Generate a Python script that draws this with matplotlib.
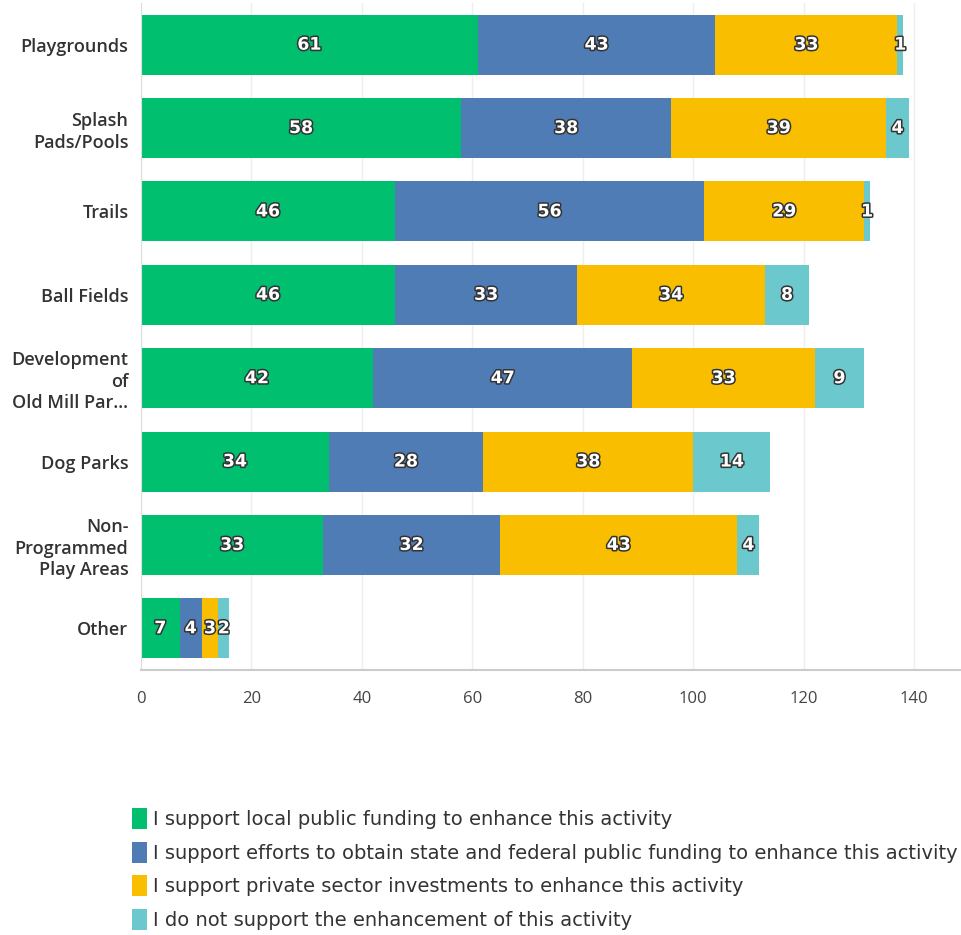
import matplotlib
matplotlib.use("Agg")
import numpy as np
import matplotlib.pyplot as plt
import matplotlib.patheffects as pe
from matplotlib.patches import Patch

# data, top to bottom as in the chart
categories = ["Playgrounds", "Splash\nPads/Pools", "Trails", "Ball Fields",
              "Development\nof\nOld Mill Par...", "Dog Parks",
              "Non-\nProgrammed\nPlay Areas", "Other"]
local_public = [61, 58, 46, 46, 42, 34, 33, 7]
state_federal = [43, 38, 56, 33, 47, 28, 32, 4]
private_sector = [33, 39, 29, 34, 33, 38, 43, 3]
no_support = [1, 4, 1, 8, 9, 14, 4, 2]
series_names = ["I support local public funding to enhance this activity",
                "I support efforts to obtain state and federal public funding to enhance this activity",
                "I support private sector investments to enhance this activity",
                "I do not support the enhancement of this activity"]
x_ticks = [0, 20, 40, 60, 80, 100, 120, 140]

colors = ["#00BF6F", "#507CB6", "#F9BE00", "#6BC8CD"]
font = "Open Sans"

fig = plt.figure(figsize=(9.61, 9.35), dpi=100)
ax = fig.add_axes([0.1467, 0.2834, 0.8533, 0.7134])

y = np.arange(len(categories))
left = np.zeros(len(categories))
halo = [pe.withStroke(linewidth=2.2, foreground="#333333")]
for vals, col in zip([local_public, state_federal, private_sector, no_support], colors):
    vals = np.array(vals, dtype=float)
    ax.barh(y, vals, left=left, height=0.72, color=col, edgecolor="none", zorder=2)
    for yi, l, v in zip(y, left, vals):
        ax.text(l + v / 2, yi, str(int(v)), ha="center", va="center", color="white",
                fontsize=12.5, fontweight="bold", family="DejaVu Sans",
                path_effects=halo, zorder=3)
    left += vals

ax.set_ylim(len(categories) - 0.5, -0.5)
ax.set_xlim(0, 148.5)
ax.set_yticks(y)
ax.set_yticklabels(categories, family=font, fontweight="semibold", fontsize=13,
                   color="#333333", linespacing=1.25)
ax.set_xticks(x_ticks)
ax.set_xticklabels([str(t) for t in x_ticks], family=font, fontsize=12, color="#444444")
ax.tick_params(axis="x", length=0, pad=15)
ax.tick_params(axis="y", length=0, pad=9)
ax.grid(axis="x", color="#EEEEEE", linewidth=1, zorder=0)
ax.set_axisbelow(True)
for s in ["top", "right"]:
    ax.spines[s].set_visible(False)
ax.spines["left"].set_color("#DDDDDD")
ax.spines["bottom"].set_color("#CCCCCC")
ax.spines["bottom"].set_linewidth(1.5)

handles = [Patch(facecolor=c, edgecolor="none") for c in colors]
fig.legend(handles, series_names, loc="upper left", bbox_to_anchor=(0.1374, 0.1358),
           frameon=False, borderpad=0, borderaxespad=0, handlelength=0.78,
           handleheight=1.3, handletextpad=0.28, labelspacing=0.64,
           prop={"family": "DejaVu Sans", "size": 14},
           labelcolor="#333333")

fig.savefig("out.png", dpi=100)
